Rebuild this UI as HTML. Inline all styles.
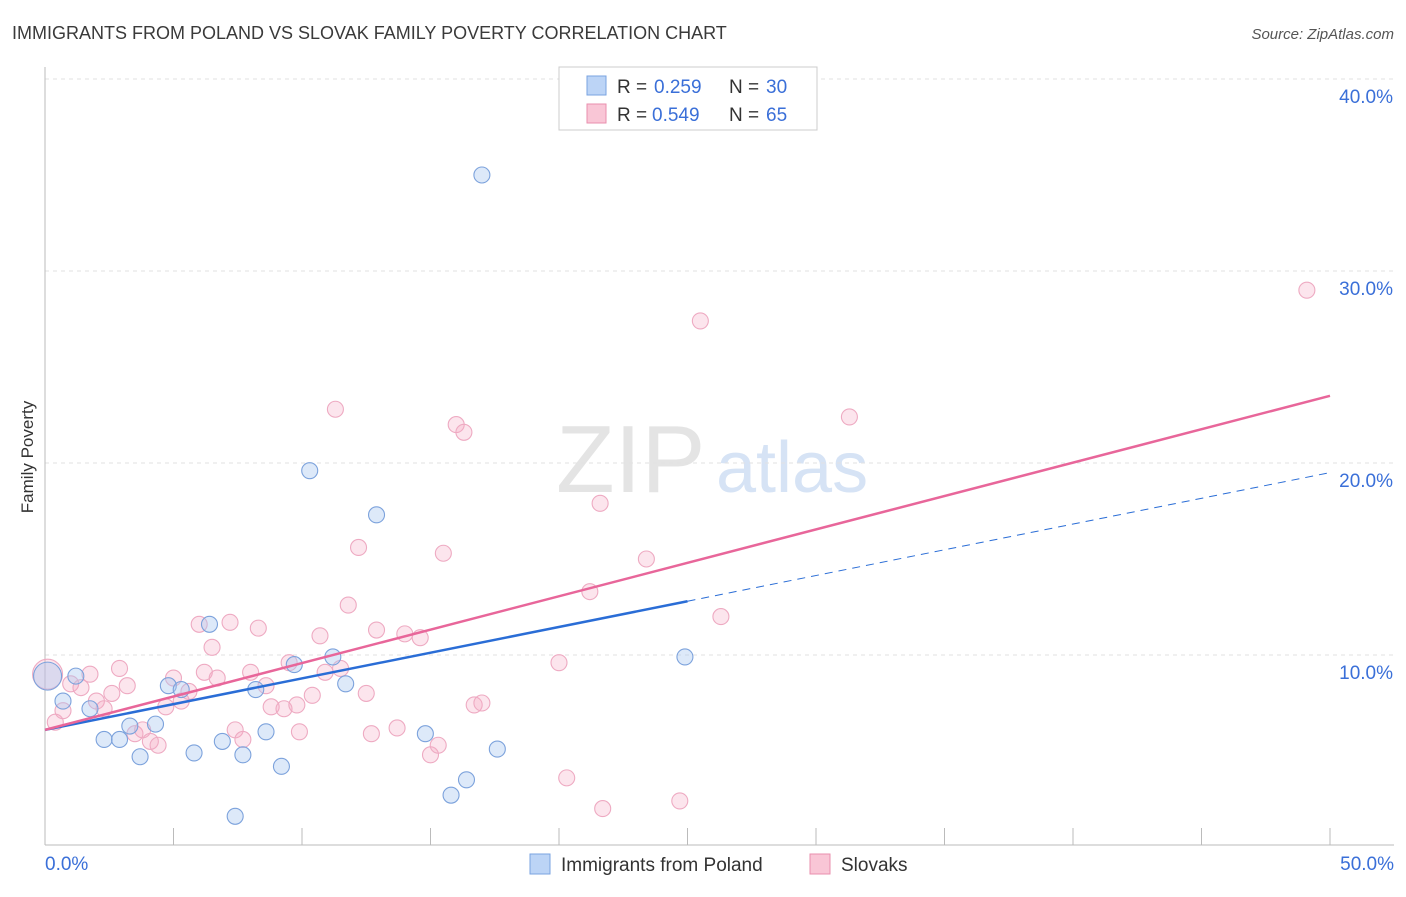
<!DOCTYPE html>
<html><head><meta charset="utf-8"><style>
body{margin:0;background:#fff;font-family:"Liberation Sans",sans-serif;}
svg text{font-family:"Liberation Sans",sans-serif;}
</style></head><body>
<svg width="1406" height="892" xmlns="http://www.w3.org/2000/svg">
<text x="12" y="39" font-size="18" fill="#3a3a3a">IMMIGRANTS FROM POLAND VS SLOVAK FAMILY POVERTY CORRELATION CHART</text>
<text x="1394" y="39" font-size="15" fill="#555" font-style="italic" text-anchor="end">Source: ZipAtlas.com</text>
<text x="33" y="457" font-size="17" fill="#333" transform="rotate(-90 33 457)" text-anchor="middle">Family Poverty</text>
<text x="556" y="492" font-size="96" fill="#e4e4e4" font-family="Liberation Serif">ZIP</text>
<text x="716" y="492" font-size="72" fill="#d6e3f5">atlas</text>
<g id="grid"></g>
<g id="marks"></g>
<g>
<rect x="559" y="67" width="258" height="63" fill="#fff" stroke="#ccc"/>
<rect x="587" y="76" width="19" height="19" fill="#bcd4f6" stroke="#7aa3e0"/>
<rect x="587" y="104" width="19" height="19" fill="#f9c6d6" stroke="#e98fae"/>
<text y="93" font-size="19" fill="#333"><tspan x="617">R =</tspan><tspan x="654" fill="#3a6fd8">0.259</tspan><tspan x="729">N =</tspan><tspan x="766" fill="#3a6fd8">30</tspan></text>
<text y="121" font-size="19" fill="#333"><tspan x="617">R =</tspan><tspan x="652" fill="#3a6fd8">0.549</tspan><tspan x="729">N =</tspan><tspan x="766" fill="#3a6fd8">65</tspan></text>
</g>
<g>
<rect x="530" y="854" width="20" height="20" fill="#bcd4f6" stroke="#7aa3e0"/>
<text x="561" y="871" font-size="19" fill="#333">Immigrants from Poland</text>
<rect x="810" y="854" width="20" height="20" fill="#f9c6d6" stroke="#e98fae"/>
<text x="841" y="871" font-size="19" fill="#333">Slovaks</text>
</g>
</svg>
<script>
const yTicks=[10,20,30,40];
const xTickLabels=["0.0%","50.0%"];
const blueX=[0.1,1.2,0.7,1.75,2.3,2.9,3.3,3.7,4.3,4.8,5.3,6.4,5.8,6.9,7.7,7.4,8.2,8.6,9.2,9.7,10.3,11.2,11.7,12.9,14.8,15.8,16.4,17.0,17.6,24.9];
const blueY=[8.9,8.9,7.6,7.2,5.6,5.6,6.3,4.7,6.4,8.4,8.2,11.6,4.9,5.5,4.8,1.6,8.2,6.0,4.2,9.5,19.6,9.9,8.5,17.3,5.9,2.7,3.5,35.0,5.1,9.9];
const pinkX=[0.1,0.4,0.7,1.0,1.4,1.75,2.0,2.3,2.6,2.9,3.2,3.5,3.8,4.1,4.4,4.7,5.0,5.3,5.6,6.0,6.2,6.5,6.7,7.2,7.4,7.7,8.0,8.3,8.6,8.8,9.3,9.5,9.8,9.9,10.4,10.7,10.9,11.3,11.5,11.8,12.2,12.5,12.7,12.9,13.7,14.0,14.6,15.0,15.3,15.5,16.0,16.3,16.7,17.0,20.0,20.3,21.2,21.6,21.7,23.4,24.7,25.5,26.3,31.3,49.1];
const pinkY=[9.0,6.5,7.1,8.5,8.3,9.0,7.6,7.2,8.0,9.3,8.4,5.9,6.1,5.5,5.3,7.3,8.8,7.6,8.1,11.6,9.1,10.4,8.8,11.7,6.1,5.6,9.1,11.4,8.4,7.3,7.2,9.6,7.4,6.0,7.9,11.0,9.1,22.8,9.3,12.6,15.6,8.0,5.9,11.3,6.2,11.1,10.9,4.8,5.3,15.3,22.0,21.6,7.4,7.5,9.6,3.6,13.3,17.9,2.0,15.0,2.4,27.4,12.0,22.4,29.0];
const blueFit=[6.1,12.8];
const pinkFit=[6.1,23.5];
const X=v=>45+v*25.7, Y=v=>847-v*19.2;
const NS="http://www.w3.org/2000/svg";
function mk(p,t,a){const e=document.createElementNS(NS,t);for(const k in a)e.setAttribute(k,a[k]);p.appendChild(e);return e;}
const g=document.getElementById('grid'), m=document.getElementById('marks');
yTicks.forEach(t=>{
 const l=mk(g,'line',{x1:45,x2:1394,y1:Y(t),y2:Y(t),stroke:'#e2e2e2','stroke-dasharray':'4,4'});
 
 
 const tx=mk(g,'text',{x:1393,y:Y(t)+24,'font-size':19,fill:'#3a6fd8','text-anchor':'end'});tx.textContent=t.toFixed(1)+'%';
 
 
});
mk(g,'line',{x1:45,x2:45,y1:67,y2:845,stroke:'#bbb'});
mk(g,'line',{x1:45,x2:1394,y1:845,y2:845,stroke:'#bbb'});
for(let i=0;i<=10;i++){const tk=mk(g,'line',{x1:X(i*5),x2:X(i*5),y1:828,y2:845,stroke:'#bbb'});
 
 }
[[0,'start',X(0)],[1,'end',1394]].forEach(([i,a,x])=>{const t=mk(g,'text',{x:x,y:870,'font-size':19,fill:'#3a6fd8','text-anchor':a});t.textContent=xTickLabels[i];
 
 });
pinkX.forEach((x,i)=>{const c=mk(m,'circle',{cx:X(x),cy:Y(pinkY[i]),r:i==0?15:8,fill:'rgba(246,170,196,0.3)',stroke:'#eeaac2','stroke-width':1.1});
 
 });
blueX.forEach((x,i)=>{const c=mk(m,'circle',{cx:X(x),cy:Y(blueY[i]),r:i==0?14:8,fill:'rgba(170,200,240,0.4)',stroke:'#7ca2dc','stroke-width':1.1});
 
 });
const bEnd=25.0, bMid=blueFit[0]+(blueFit[1]-blueFit[0])*bEnd/25.0;
const slope=(blueFit[1]-blueFit[0])/25.0;
const bl=mk(m,'line',{x1:X(0),y1:Y(blueFit[0]),x2:X(bEnd),y2:Y(bMid),stroke:'#2a6dd6','stroke-width':2.5});


const bd=mk(m,'line',{x1:X(bEnd),y1:Y(bMid),x2:X(50),y2:Y(blueFit[0]+slope*50),stroke:'#2a6dd6','stroke-width':1,'stroke-dasharray':'8,6'});


const pl=mk(m,'line',{x1:X(0),y1:Y(pinkFit[0]),x2:X(50),y2:Y(pinkFit[1]),stroke:'#e8669a','stroke-width':2.5});


</script>
</body></html>
